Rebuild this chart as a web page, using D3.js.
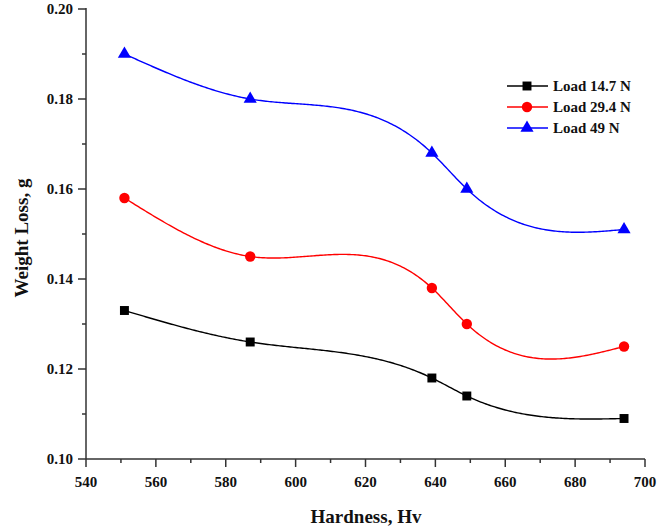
<!DOCTYPE html>
<html><head><meta charset="utf-8">
<script src="https://cdn.jsdelivr.net/npm/d3@7"></script>
<style>body{margin:0;background:#fff}svg{display:block}text{font-family:"Liberation Serif","Times New Roman",serif;font-weight:bold;fill:#111}</style>
</head><body><svg id="c" width="671" height="528"></svg>
<script>
const hardness = [551, 587, 639, 649, 694];
const load147 = [0.133, 0.126, 0.118, 0.114, 0.109];
const load294 = [0.158, 0.145, 0.138, 0.130, 0.125];
const load49 = [0.190, 0.180, 0.168, 0.160, 0.151];
const seriesNames = ["Load 14.7 N", "Load 29.4 N", "Load 49 N"];
const xTicks = [540, 560, 580, 600, 620, 640, 660, 680, 700];
const yTicks = [0.10, 0.12, 0.14, 0.16, 0.18, 0.20];

const svg = d3.select("#c");
const x = d3.scaleLinear().domain([540, 700]).range([86, 645]);
const y = d3.scaleLinear().domain([0.10, 0.20]).range([459, 9]);

// natural cubic spline y(x)
function spline(xs, ys) {
  const n = xs.length, h = [], a = [], l = [1], mu = [0], z = [0], c = new Array(n).fill(0), b = [], d = [];
  for (let i = 0; i < n - 1; i++) h.push(xs[i+1] - xs[i]);
  for (let i = 1; i < n - 1; i++) a[i] = 3/h[i]*(ys[i+1]-ys[i]) - 3/h[i-1]*(ys[i]-ys[i-1]);
  for (let i = 1; i < n - 1; i++) {
    l[i] = 2*(xs[i+1]-xs[i-1]) - h[i-1]*mu[i-1];
    mu[i] = h[i]/l[i];
    z[i] = (a[i] - h[i-1]*z[i-1])/l[i];
  }
  for (let j = n - 2; j >= 1; j--) c[j] = z[j] - mu[j]*c[j+1];
  for (let j = 0; j < n - 1; j++) {
    b[j] = (ys[j+1]-ys[j])/h[j] - h[j]*(c[j+1] + 2*c[j])/3;
    d[j] = (c[j+1]-c[j])/(3*h[j]);
  }
  return t => {
    let j = 0;
    while (j < n - 2 && t > xs[j+1]) j++;
    const dx = t - xs[j];
    return ys[j] + b[j]*dx + c[j]*dx*dx + d[j]*dx*dx*dx;
  };
}

const series = [
  {name: seriesNames[0], vals: load147, color: "#000000", sym: d3.symbolSquare, size: 80},
  {name: seriesNames[1], vals: load294, color: "#ff0000", sym: d3.symbolCircle, size: 85},
  {name: seriesNames[2], vals: load49, color: "#0000ff", sym: d3.symbolTriangle, size: 75}
];

// axes
const gx = svg.append("g").attr("transform", "translate(0,459)");
gx.append("line").attr("x1", 86).attr("x2", 645).attr("stroke", "#333").attr("stroke-width", 1.5);
d3.range(540, 701, 10).forEach(v => {
  const major = xTicks.includes(v);
  gx.append("line").attr("x1", x(v)).attr("x2", x(v)).attr("y1", 0).attr("y2", major ? 8 : 4).attr("stroke", "#333").attr("stroke-width", 1.5);
});
xTicks.forEach(v => gx.append("text").attr("x", x(v)).attr("y", 28).attr("text-anchor", "middle").attr("font-size", 15).text(v));

const gy = svg.append("g").attr("transform", "translate(86,0)");
gy.append("line").attr("y1", 459).attr("y2", 8).attr("stroke", "#333").attr("stroke-width", 1.5);
d3.range(0.10, 0.2001, 0.01).forEach(v => {
  const major = yTicks.some(t => Math.abs(t - v) < 1e-6);
  gy.append("line").attr("x1", 0).attr("x2", major ? -8 : -4).attr("y1", y(v)).attr("y2", y(v)).attr("stroke", "#333").attr("stroke-width", 1.5);
});
yTicks.forEach(v => gy.append("text").attr("x", -13).attr("y", y(v)).attr("dy", "0.35em").attr("text-anchor", "end").attr("font-size", 15).text(v.toFixed(2)));

svg.append("text").attr("x", 366).attr("y", 523).attr("text-anchor", "middle").attr("font-size", 19).text("Hardness, Hv");
svg.append("text").attr("transform", "translate(28,238) rotate(-90)").attr("text-anchor", "middle").attr("font-size", 19).text("Weight Loss, g");

// lines
const line = d3.line().x(d => x(d[0])).y(d => y(d[1]));
series.forEach(s => {
  const f = spline(hardness, s.vals);
  const pts = d3.range(hardness[0], hardness[hardness.length-1] + 0.001, 0.5).map(t => [t, f(t)]);
  svg.append("path").attr("d", line(pts)).attr("fill", "none").attr("stroke", s.color).attr("stroke-width", 1.4);
  svg.selectAll(null).data(hardness.map((h, i) => [h, s.vals[i]])).enter().append("path")
    .attr("d", d3.symbol(s.sym, s.size)).attr("fill", s.color)
    .attr("transform", d => `translate(${x(d[0])},${y(d[1])})`);
});

// legend
const lg = svg.append("g");
const legY = [86, 107, 128];
series.forEach((s, i) => {
  lg.append("line").attr("x1", 507).attr("x2", 548).attr("y1", legY[i]).attr("y2", legY[i]).attr("stroke", s.color).attr("stroke-width", 1.4);
  lg.append("path").attr("d", d3.symbol(s.sym, s.size)).attr("fill", s.color).attr("transform", `translate(527,${legY[i]})`);
  lg.append("text").attr("x", 553).attr("y", legY[i]).attr("dy", "0.35em").attr("font-size", 15).text(s.name);
});
</script></body></html>
